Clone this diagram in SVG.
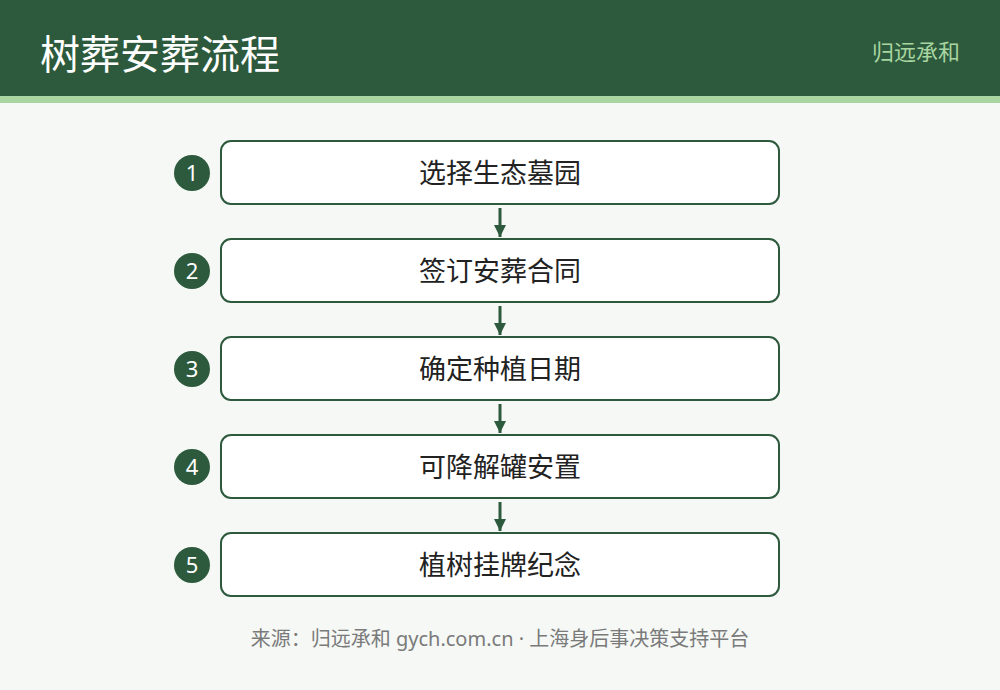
<svg xmlns="http://www.w3.org/2000/svg" width="1000" height="690" viewBox="0 0 1000 690">
<defs>
<style>
.cjk{font-family:"Noto Sans CJK SC","Noto Sans",sans-serif;}
.lat{font-family:"Noto Sans","Noto Sans CJK SC",sans-serif;}
.box{fill:#ffffff;stroke:#2d5a3d;stroke-width:2;}
.num{fill:#2d5a3d;}
.numt{fill:#ffffff;font-size:22px;text-anchor:middle;font-family:"Noto Sans","Noto Sans CJK SC",sans-serif;}
.lbl{fill:#222222;font-size:27px;text-anchor:middle;}
.conn{stroke:#2d5a3d;stroke-width:3;fill:none;}
</style>
<marker id="ah" viewBox="0 0 10 10" refX="10" refY="5" markerWidth="16" markerHeight="12" markerUnits="userSpaceOnUse" orient="auto">
<path d="M0,0 L10,5 L0,10 z" fill="#2d5a3d"/>
</marker>
</defs>
<rect x="0" y="0" width="1000" height="690" fill="#f5f8f5"/>
<g id="header">
<rect x="0" y="0" width="1000" height="96" fill="#2d5a3d"/>
<rect x="0" y="96" width="1000" height="7" fill="#a8d5a0"/>
<text x="40" y="69" class="cjk" font-size="40" fill="#ffffff">树葬安葬流程</text>
<text x="960" y="60" class="cjk" font-size="22" fill="#a8d5a0" text-anchor="end">归远承和</text>
</g>
<g id="connectors">
<line class="conn" x1="500" y1="208" x2="500" y2="237" marker-end="url(#ah)"/>
<line class="conn" x1="500" y1="306" x2="500" y2="335" marker-end="url(#ah)"/>
<line class="conn" x1="500" y1="404" x2="500" y2="433" marker-end="url(#ah)"/>
<line class="conn" x1="500" y1="502" x2="500" y2="531" marker-end="url(#ah)"/>
</g>
<g id="step1">
<rect class="box" x="221" y="141" width="558" height="63" rx="10"/>
<circle class="num" cx="192" cy="173" r="18"/>
<text class="numt" x="192" y="181">1</text>
<text class="lbl cjk" x="500" y="183">选择生态墓园</text>
</g>
<g id="step2">
<rect class="box" x="221" y="239" width="558" height="63" rx="10"/>
<circle class="num" cx="192" cy="271" r="18"/>
<text class="numt" x="192" y="279">2</text>
<text class="lbl cjk" x="500" y="281">签订安葬合同</text>
</g>
<g id="step3">
<rect class="box" x="221" y="337" width="558" height="63" rx="10"/>
<circle class="num" cx="192" cy="369" r="18"/>
<text class="numt" x="192" y="377">3</text>
<text class="lbl cjk" x="500" y="379">确定种植日期</text>
</g>
<g id="step4">
<rect class="box" x="221" y="435" width="558" height="63" rx="10"/>
<circle class="num" cx="192" cy="467" r="18"/>
<text class="numt" x="192" y="475">4</text>
<text class="lbl cjk" x="500" y="477">可降解罐安置</text>
</g>
<g id="step5">
<rect class="box" x="221" y="533" width="558" height="63" rx="10"/>
<circle class="num" cx="192" cy="565" r="18"/>
<text class="numt" x="192" y="573">5</text>
<text class="lbl cjk" x="500" y="575">植树挂牌纪念</text>
</g>
<g id="footer">
<text x="500" y="646" class="lat" font-size="20" fill="#7a7a7a" text-anchor="middle">来源：归远承和 gych.com.cn · 上海身后事决策支持平台</text>
</g>
</svg>
